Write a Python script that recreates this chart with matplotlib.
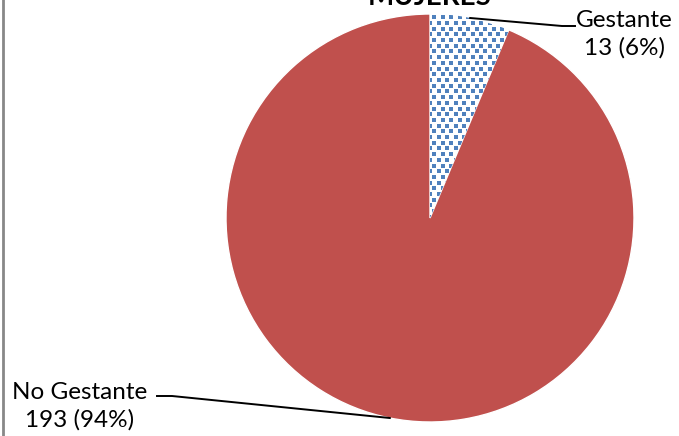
import numpy as np
import matplotlib
matplotlib.use("Agg")
import matplotlib.pyplot as plt

# data
categories = ["Gestante", "No Gestante"]
counts = [13, 193]
title = "MUJERES"

plt.rcParams['font.family'] = ['Lato', 'DejaVu Sans']

W, H = 679, 436
fig = plt.figure(figsize=(W / 100, H / 100), dpi=100)
ax = fig.add_axes([0, 0, 1, 1])

##work in pixel-like data units, y measured upward
cx, cy, r = 430, H - 218, 204
wedges, _ = ax.pie(counts, startangle=90, counterclock=False,
                   center=(cx, cy), radius=r,
                   colors=['white', '#C0504D'],
                   wedgeprops=dict(linewidth=0))
ax.set_xlim(0, W)
ax.set_ylim(0, H)
ax.set_aspect('equal')
ax.axis('off')

wedges[1].set_edgecolor('white')
wedges[1].set_linewidth(1)

##dotted texture for the first wedge: small squares clipped to the wedge
xstep, ystep = 8.5, 5.7
gx, gy = np.meshgrid(np.arange(cx - r, cx + r, xstep), np.arange(cy - r, cy + r, ystep))
gx = gx + (np.arange(gx.shape[0])[:, None] % 2) * xstep / 2
dots, = ax.plot(gx.ravel(), gy.ravel(), 's', ms=2.9, color='#4F81BD', mew=0)
dots.set_clip_path(wedges[0])

total = sum(counts)
pct = [round(100 * c / total) for c in counts]

##leader lines from the wedge mid-angles (pixel coords, top-left origin)
ends = [[(562, 26), (575, 26)], [(172, 396), (157, 396)]]
text_pos = [(624, 34), (80, 406)]
for w, c, p, e, tp, cat in zip(wedges, counts, pct, ends, text_pos, categories):
    mid = np.deg2rad((w.theta1 + w.theta2) / 2)
    sx = cx + r * np.cos(mid)
    sy = cy + r * np.sin(mid)
    xs = [sx] + [pt[0] for pt in e]
    ys = [sy] + [H - pt[1] for pt in e]
    ax.plot(xs, ys, color='black', lw=1.4)
    ax.text(tp[0], H - tp[1], f"{cat}\n{c} ({p}%)", ha='center', va='center',
            fontsize=17.5, linespacing=1.35)

ax.text(cx, H - 5, title, ha='center', va='baseline', fontsize=20,
        fontweight='bold')
ax.axvline(3, color='#888888', lw=2)

fig.savefig("out.png", dpi=100)
